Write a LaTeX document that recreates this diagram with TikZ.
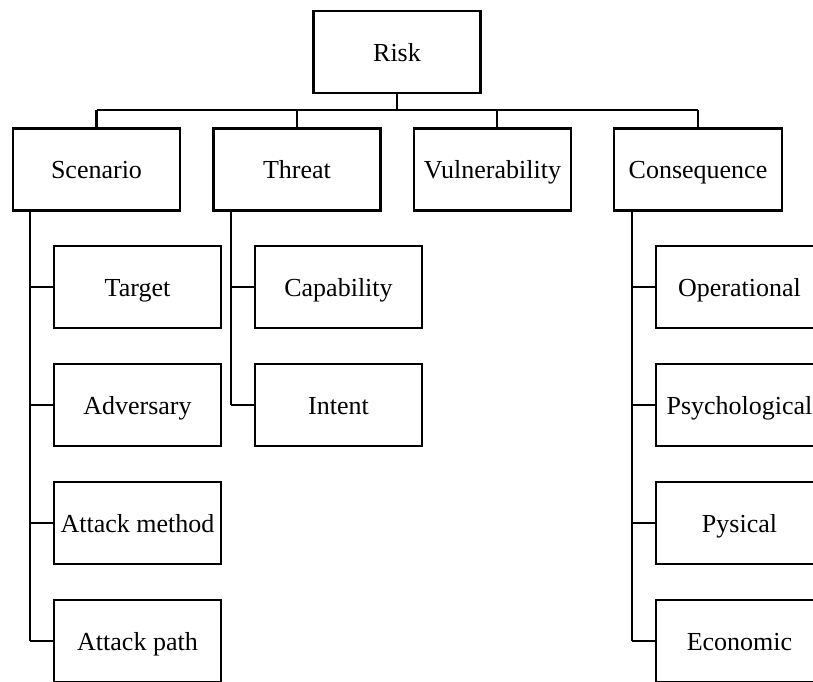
\documentclass[tikz,border=0pt]{standalone}
\usepackage{fontspec}
\setmainfont{Liberation Serif}
\begin{document}
\begin{tikzpicture}[x=1pt,y=-1pt,
  box/.style={draw, line width=2.8pt, inner sep=0pt, outer sep=0pt, minimum width=167pt, minimum height=82pt, text height=20pt, text depth=2pt, font=\fontsize{26}{30}\selectfont, fill=white},
  link/.style={line width=2.5pt},
  buslink/.style={line width=1.9pt}]
\useasboundingbox (0,0) rectangle (813,681);
\clip (0,0) rectangle (813,681);
% level 0
\node[box] (Risk) at (397,52) {Risk};
% level 1
\node[box] (Scenario) at (96.5,169.5) {Scenario};
\node[box] (Threat) at (297,169.5) {Threat};
\node[box, minimum width=157pt] (Vuln) at (492.5,169.5) {Vulnerability};
\node[box, minimum width=168pt] (Cons) at (698,169.5) {Consequence};
% Scenario children
\node[box] (Target) at (137.5,287) {Target};
\node[box] (Adversary) at (137.5,405) {Adversary};
\node[box] (Method) at (137.5,523) {Attack method};
\node[box] (Path) at (137.5,641) {Attack path};
% Threat children
\node[box] (Capability) at (338.5,287) {Capability};
\node[box] (Intent) at (338.5,405) {Intent};
% Consequence children
\node[box] (Operational) at (739.5,287) {Operational};
\node[box] (Psych) at (739.5,405) {Psychological};
\node[box] (Pysical) at (739.5,523) {Pysical};
\node[box] (Economic) at (739.5,641) {Economic};
% bus
\coordinate (busL) at (96.5,110);
\coordinate (busR) at (698,110);
\coordinate (vx) at (497,110);
\draw[buslink] (busL) -- (busR);
\draw[link] (Risk.south) -- (Risk.south |- busL);
\draw[link] (busL) -- (Scenario.north);
\draw[link] (Threat.north |- busL) -- (Threat.north);
\draw[link] (vx) -- (vx |- Vuln.north);
\draw[link] (busR) -- (Cons.north);
% Scenario spine
\coordinate (sv) at (30,211);
\draw[link] (sv) -- (sv |- Path.west);
\foreach \c in {Target,Adversary,Method,Path} \draw[link] (sv |- \c.west) -- (\c.west);
% Threat spine
\coordinate (tv) at (231,211);
\draw[link] (tv) -- (tv |- Intent.west);
\foreach \c in {Capability,Intent} \draw[link] (tv |- \c.west) -- (\c.west);
% Consequence spine
\coordinate (cv) at (632,211);
\draw[link] (cv) -- (cv |- Economic.west);
\foreach \c in {Operational,Psych,Pysical,Economic} \draw[link] (cv |- \c.west) -- (\c.west);
\end{tikzpicture}
\end{document}
